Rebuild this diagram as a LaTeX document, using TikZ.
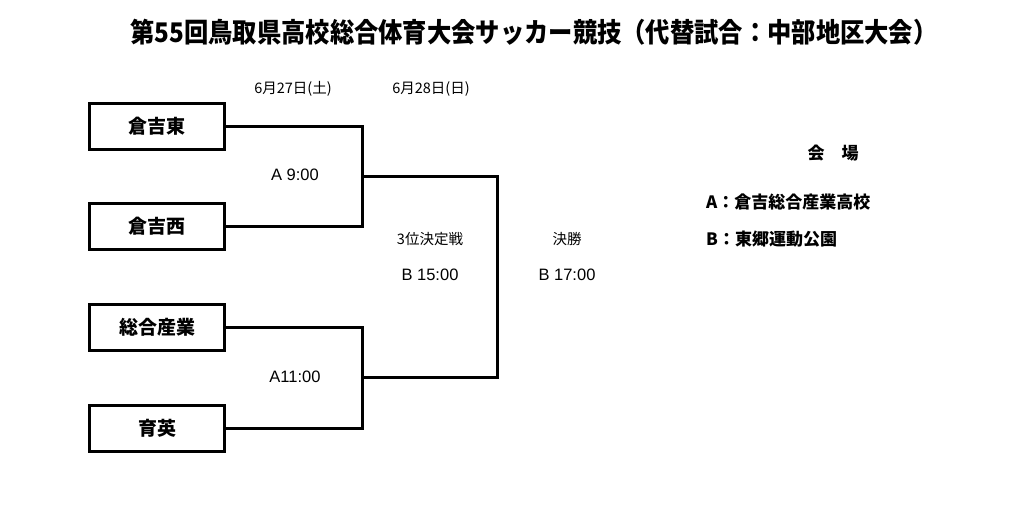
\documentclass[tikz,border=0pt]{standalone}
\usepackage{fontspec}
\setmainfont{Noto Sans CJK JP}
\newfontfamily\titlefont[FakeStretch=0.9]{Noto Sans CJK JP}
\newfontfamily\latinfont{Liberation Sans}
\begin{document}
\begin{tikzpicture}[x=1pt, y=-1pt,
    team/.style={shape=rectangle, draw=black, line width=3pt, minimum width=135, minimum height=46,
                 inner sep=0pt, font=\fontsize{19}{21}\selectfont\bfseries},
    bracket/.style={draw=black, line width=3pt},
    info/.style={inner sep=0pt, font=\fontsize{14.5}{16}\selectfont},
    timelbl/.style={inner sep=0pt, font=\latinfont\fontsize{16.5}{18}\selectfont},
    datelbl/.style={inner sep=0pt, font=\fontsize{14.5}{16}\selectfont},
    venue/.style={inner sep=0pt, anchor=west, font=\fontsize{17}{19}\selectfont\bfseries}]
  \useasboundingbox (0,0) rectangle (1024,507);
     \path (534, 32) node [inner sep=0pt, font=\titlefont\fontsize{27}{29}\selectfont\bfseries] (title)
               {第55回鳥取県高校総合体育大会サッカー競技（代替試合：中部地区大会）}
           (293, 89) node [datelbl] (day1) {6月27日(土)}
           (431, 89) node [datelbl] (day2) {6月28日(日)}
     ;
     \path (157, 126) node [team] (kurahigashi) {倉吉東}
           (157, 226) node [team] (kuranishi) {倉吉西}
           (157, 327) node [team] (sogo) {総合産業}
           (157, 428) node [team] (ikuei) {育英}
     ;
     \coordinate (semi1) at (362, 176);
     \coordinate (semi2) at (362, 377);
     \coordinate (final) at (497, 276);
     \draw [bracket] (kurahigashi.east) -| (semi1) |- (kuranishi.east);
     \draw [bracket] (sogo.east) -| (semi2) |- (ikuei.east);
     \draw [bracket] (semi1) -| (final) |- (semi2);
     \path (295, 175) node [timelbl] (game1) {A 9:00}
           (295, 377) node [timelbl] (game2) {A11:00}
           (430, 239) node [info] (third) {3位決定戦}
           (430, 275) node [timelbl] (thirdtime) {B 15:00}
           (567, 239) node [info] (kessho) {決勝}
           (567, 275) node [timelbl] (kesshotime) {B 17:00}
     ;
     \path (833, 153) node [inner sep=0pt, font=\fontsize{17}{19}\selectfont\bfseries] (kaijo) {会　場}
           (706, 202) node [venue] (venueA) {A：倉吉総合産業高校}
           (706, 239) node [venue] (venueB) {B：東郷運動公園}
     ;
  \end{tikzpicture}
\end{document}
